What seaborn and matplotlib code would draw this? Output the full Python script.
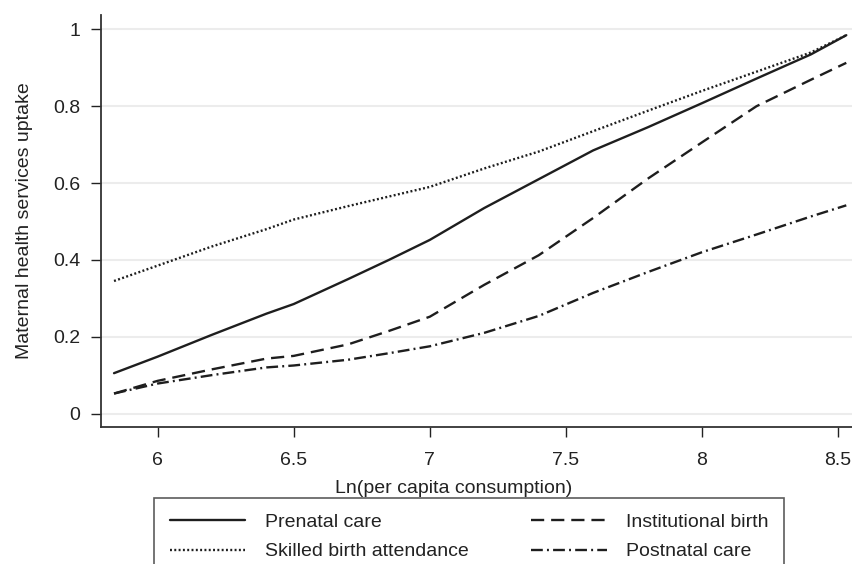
import pandas as pd
import matplotlib
matplotlib.use("Agg")
import matplotlib.pyplot as plt
import seaborn as sns

# values
ln_consumption = [5.84, 6.0, 6.2, 6.4, 6.5, 6.7, 6.85, 7.0, 7.2, 7.4, 7.6, 7.8, 8.0, 8.2, 8.4, 8.53]
prenatal = [0.105, 0.148, 0.205, 0.26, 0.285, 0.35, 0.40, 0.452, 0.535, 0.61, 0.685, 0.745, 0.808, 0.872, 0.935, 0.985]
skilled = [0.345, 0.385, 0.435, 0.48, 0.505, 0.54, 0.565, 0.59, 0.638, 0.682, 0.735, 0.788, 0.84, 0.89, 0.94, 0.985]
institutional = [0.052, 0.085, 0.115, 0.143, 0.15, 0.18, 0.215, 0.252, 0.335, 0.412, 0.509, 0.611, 0.706, 0.80, 0.869, 0.913]
postnatal = [0.052, 0.078, 0.10, 0.12, 0.125, 0.14, 0.157, 0.175, 0.21, 0.254, 0.314, 0.368, 0.42, 0.466, 0.513, 0.542]

x_ticks = [6, 6.5, 7, 7.5, 8, 8.5]
x_tick_labels = ["6", "6.5", "7", "7.5", "8", "8.5"]
y_ticks = [0, 0.2, 0.4, 0.6, 0.8, 1.0]
y_tick_labels = ["0", "0.2", "0.4", "0.6", "0.8", "1"]

# legend fills column by column, so this order gives the reference layout
series = [
    ("Prenatal care", prenatal, "-"),
    ("Skilled birth attendance", skilled, (0, (1.4, 1.7))),
    ("Institutional birth", institutional, (0, (9.5, 5))),
    ("Postnatal care", postnatal, (0, (8.5, 3, 1.4, 3))),
]

sns.set_theme(style="white")
plt.rcParams["font.family"] = ["Liberation Sans", "DejaVu Sans"]
plt.rcParams["lines.scale_dashes"] = False

fig = plt.figure(figsize=(8.52, 5.64), dpi=100)
ax = fig.add_axes([0.1185, 0.243, 0.8815, 0.73])

ink = "#1e1e1e"
for name, vals, ls in series:
    df = pd.DataFrame({"x": ln_consumption, "y": vals})
    sns.lineplot(data=df, x="x", y="y", ax=ax, color=ink, linewidth=1.7,
                 linestyle=ls, label=name, legend=False)

ax.set_xlim(5.792, 8.551)
ax.set_ylim(-0.035, 1.037)
ax.set_xticks(x_ticks)
ax.set_xticklabels(x_tick_labels)
ax.set_yticks(y_ticks)
ax.set_yticklabels(y_tick_labels)
ax.tick_params(axis="both", labelsize=14, colors="#222222", length=7, width=1,
               direction="out", pad=8)
ax.tick_params(axis="x", bottom=True, pad=11)
ax.tick_params(axis="y", left=True)
ax.yaxis.grid(True, color="#ececec", linewidth=1.5)
ax.xaxis.grid(False)
ax.set_axisbelow(True)

for side in ["top", "right"]:
    ax.spines[side].set_visible(False)
for side in ["left", "bottom"]:
    ax.spines[side].set_color("#333333")
    ax.spines[side].set_linewidth(1.3)

ax.set_xlabel("Ln(per capita consumption)", fontsize=14, color="#222222", labelpad=10)
ax.xaxis.set_label_coords(0.469, -0.13)
ax.set_ylabel("Maternal health services uptake", fontsize=14, color="#222222", labelpad=14)

handles, labels = ax.get_legend_handles_labels()
leg = fig.legend(handles, labels, ncol=2, loc="upper left",
                 bbox_to_anchor=(0.1808, 1 - 498 / 564, 0.7395, 0),
                 mode="expand", fontsize=14, frameon=True, fancybox=False,
                 handlelength=3.9, handletextpad=1.0, borderpad=0.8,
                 labelspacing=0.6, borderaxespad=0)
leg.get_frame().set_edgecolor("#333333")
leg.get_frame().set_linewidth(1.2)
for t in leg.get_texts():
    t.set_color("#222222")

fig.savefig("out.png", dpi=100)
